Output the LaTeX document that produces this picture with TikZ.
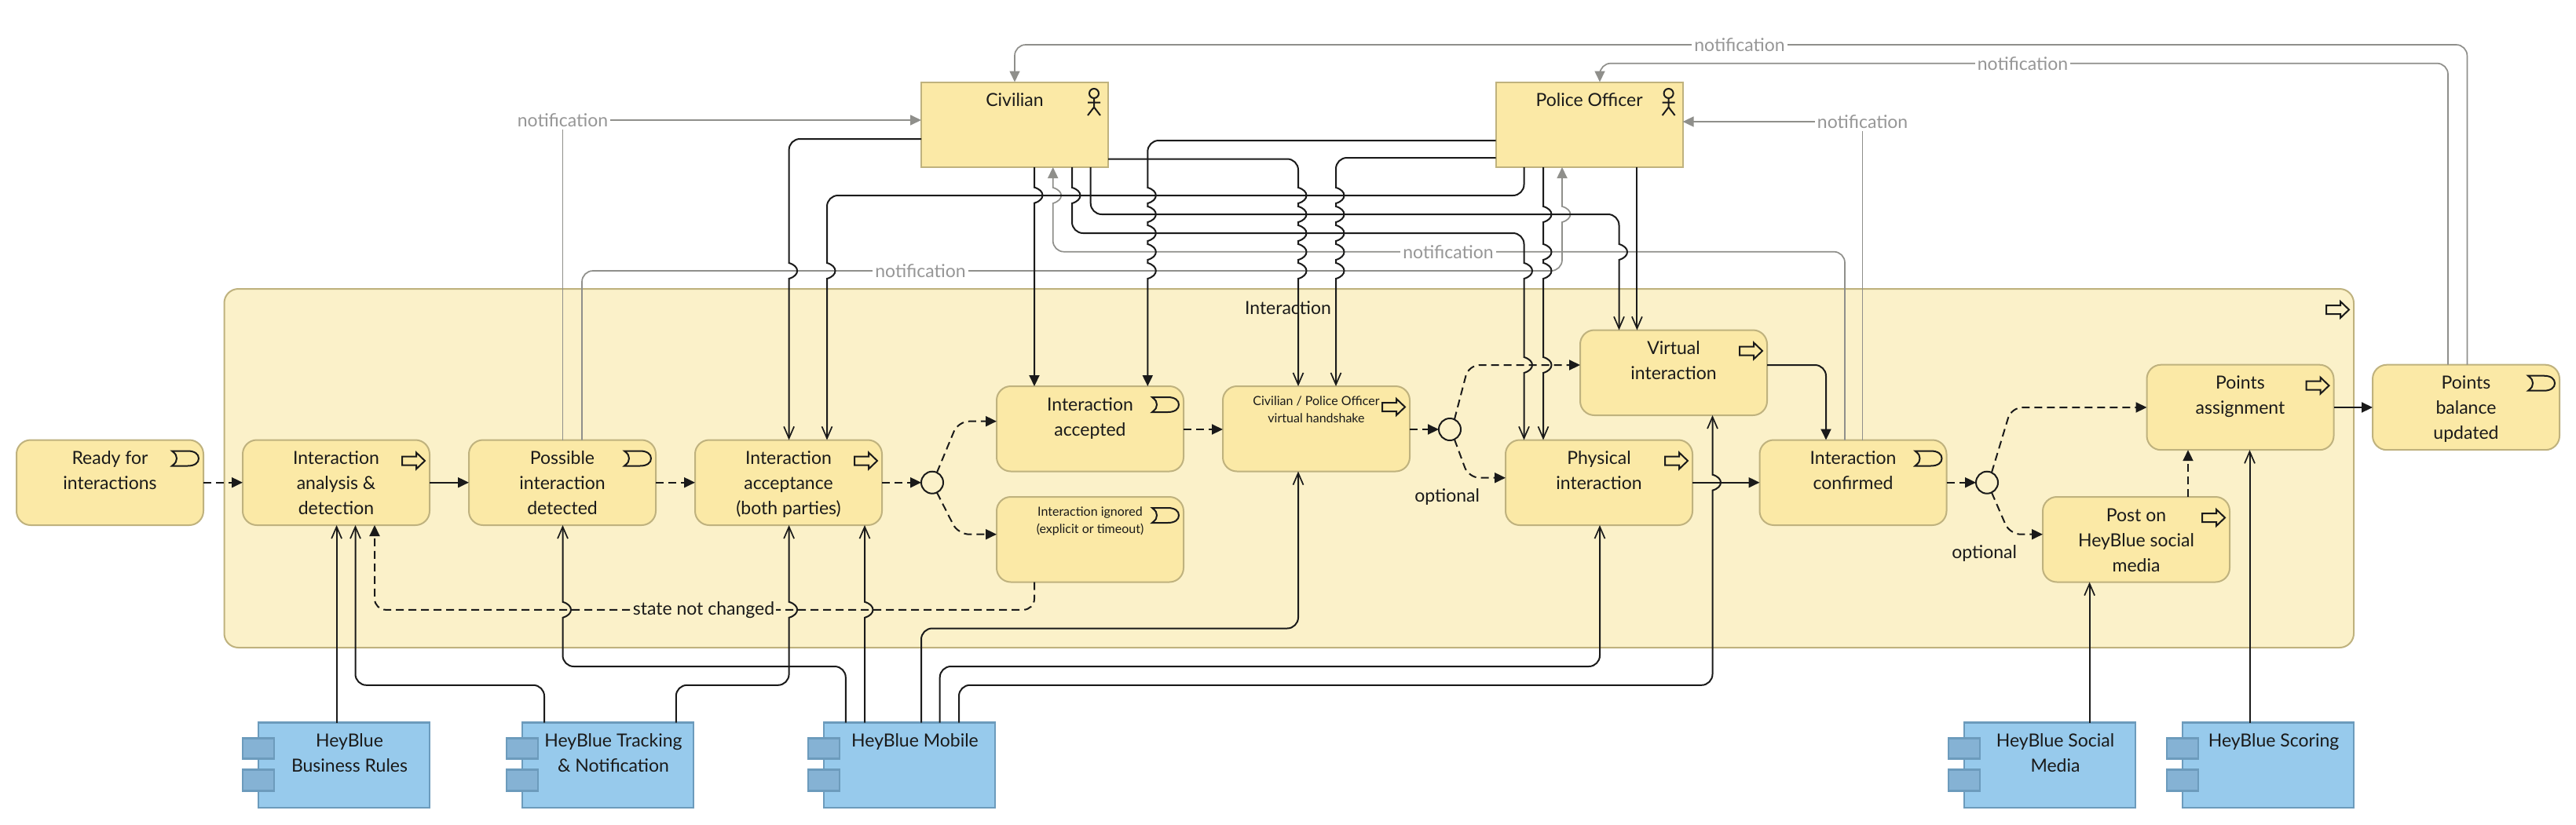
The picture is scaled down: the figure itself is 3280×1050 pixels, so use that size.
\documentclass[tikz,border=0pt]{standalone}
\usepackage{fontspec}
\setmainfont{Lato}
\usetikzlibrary{arrows.meta}
\definecolor{boxfill}{HTML}{FBE9A6}
\definecolor{boxline}{HTML}{BFB27E}
\definecolor{contfill}{HTML}{FBF1C9}
\definecolor{bluefill}{HTML}{97CAEC}
\definecolor{blueline}{HTML}{6C9BBC}
\definecolor{tabfill}{HTML}{85B2D4}
\definecolor{ink}{HTML}{1A1A1A}
\definecolor{greyline}{HTML}{8F8F8B}
\definecolor{greytext}{HTML}{969696}
\newcommand{\tx}[3]{\begin{minipage}[t][#2pt][t]{#1pt}\centering\fontsize{23}{32}\selectfont\rule{0pt}{31pt}\ignorespaces #3\end{minipage}}
\newcommand{\txs}[3]{\begin{minipage}[t][#2pt][t]{#1pt}\centering\fontsize{16}{22}\selectfont\rule{0pt}{24pt}\ignorespaces #3\end{minipage}}
\newcommand{\txc}[3]{\begin{minipage}[t][#2pt][t]{#1pt}\centering\leftskip=14pt plus 1fil\fontsize{23}{32}\selectfont\rule{0pt}{31pt}\ignorespaces #3\end{minipage}}
\newcommand{\Dn}[2]{[sharp corners] -- (#1,#2-10) .. controls (#1+14,#2-6) and (#1+14,#2+6) .. (#1,#2+10) [rounded corners=14pt]}
\newcommand{\Up}[2]{[sharp corners] -- (#1,#2+10) .. controls (#1+14,#2+6) and (#1+14,#2-6) .. (#1,#2-10) [rounded corners=14pt]}
\tikzset{
  evt/.style={draw=boxline,fill=boxfill,line width=2pt,rounded corners=18pt,inner sep=0pt,outer sep=0pt,text=ink},
  actorbox/.style={draw=boxline,fill=boxfill,line width=2pt,inner sep=0pt,outer sep=0pt,text=ink},
  contbox/.style={draw=boxline,fill=contfill,line width=2pt,rounded corners=18pt,inner sep=0pt,outer sep=0pt},
  compbox/.style={draw=blueline,fill=bluefill,line width=2.5pt,inner sep=0pt,outer sep=0pt,text=ink},
  junct/.style={circle,draw=ink,fill=contfill,line width=2pt,minimum size=28pt,inner sep=0pt,outer sep=0pt},
  lab/.style={text=ink,inner sep=0pt,font=\fontsize{23}{28}\selectfont},
  glab/.style={text=greytext,fill=white,inner sep=3pt,font=\fontsize{23}{28}\selectfont},
  conn/.style={draw=ink,line width=2pt,rounded corners=14pt},
  dashconn/.style={conn,dash pattern=on 10pt off 6pt},
  grey/.style={draw=greyline,line width=1.7pt,rounded corners=14pt},
  filltip/.style={-{Triangle[length=14pt,width=13pt]}},
  opentip/.style={-{Straight Barb[length=15pt,width=13pt,line width=1.7pt]}},
  procicon/.pic={\draw[ink,line width=2pt,line join=miter] (-35,21) -- (-17,21) -- (-17,16) -- (-6,26.5) -- (-17,37) -- (-17,32) -- (-35,32) -- cycle;},
  evticon/.pic={\draw[ink,line width=2pt] (-40,14) -- (-20,14) .. controls (-11,14) and (-6,18) .. (-6,23.5) .. controls (-6,29) and (-11,33) .. (-20,33) -- (-40,33) .. controls (-35,29) and (-34,27) .. (-34,23.5) .. controls (-34,20) and (-35,18) .. (-40,14) -- cycle;},
  actoricon/.pic={\draw[ink,line width=2pt] (-18,14.5) circle (6pt) (-18,20.5) -- (-18,32) (-26,26) -- (-10,26) (-26,42.5) -- (-18,32) -- (-10,42.5);},
  tabs/.pic={\draw[blueline,fill=tabfill,line width=2.5pt] (-20,20) rectangle (20,46) (-20,60) rectangle (20,87);},
}
\begin{document}
\begin{tikzpicture}[x=1pt,y=-1pt]
\useasboundingbox (0,0) rectangle (3280,1050);
% container
\node[contbox,anchor=north west,minimum width=2711.5pt,minimum height=457pt] (cont) at (285.5,368) {};
\pic at (cont.north east) {procicon};
\node[lab] (contlab) at (1640,392) {Interaction};
% boxes
\node[evt,anchor=north west] (ready) at (21,560.5) {\tx{238}{108.5}{Ready for\\interactions}};
\node[evt,anchor=north west] (ana) at (309,560.5) {\tx{238}{108.5}{Interaction\\analysis \&\\detection}};
\node[evt,anchor=north west] (pos) at (597,560.5) {\tx{238}{108.5}{Possible\\interaction\\detected}};
\node[evt,anchor=north west] (accp) at (885,560.5) {\tx{238}{108.5}{Interaction\\acceptance\\(both parties)}};
\node[evt,anchor=north west] (accd) at (1269,492) {\tx{238}{108.5}{Interaction\\accepted}};
\node[evt,anchor=north west] (ign) at (1269,633) {\txs{238}{108.5}{Interaction ignored\\(explicit or timeout)}};
\node[evt,anchor=north west] (hs) at (1557,492) {\txs{238}{108.5}{Civilian / Police Officer\\virtual handshake}};
\node[evt,anchor=north west] (vir) at (2012,420.5) {\tx{238}{108.5}{Virtual\\interaction}};
\node[evt,anchor=north west] (phy) at (1917,560.5) {\tx{238}{108.5}{Physical\\interaction}};
\node[evt,anchor=north west] (conf) at (2240.5,560.5) {\tx{238}{108.5}{Interaction\\confirmed}};
\node[evt,anchor=north west] (post) at (2601,633) {\tx{238}{108.5}{Post on\\HeyBlue social\\media}};
\node[evt,anchor=north west] (asg) at (2733.5,464.7) {\tx{238}{108.5}{Points\\assignment}};
\node[evt,anchor=north west] (bal) at (3021,464.7) {\tx{238}{108.5}{Points\\balance\\updated}};
\node[actorbox,anchor=north west] (civ) at (1173,104.5) {\tx{238}{108.5}{Civilian}};
\node[actorbox,anchor=north west] (pol) at (1904.6,104.5) {\tx{238}{108.5}{Police Officer}};
\node[junct] (j1) at (1187,614.7) {};
\node[junct] (j2) at (1846,547) {};
\node[junct] (j3) at (2530,614.7) {};
\foreach \n in {ready,pos,accd,ign,conf,bal} \pic at (\n.north east) {evticon};
\foreach \n in {ana,accp,hs,vir,phy,post,asg} \pic at (\n.north east) {procicon};
\foreach \n in {civ,pol} \pic at (\n.north east) {actoricon};
% components
\node[compbox,anchor=north west] (rules) at (329,920.7) {\txc{218}{108.5}{HeyBlue\\Business Rules}};
\node[compbox,anchor=north west] (track) at (665,920.7) {\txc{218}{108.5}{HeyBlue Tracking\\\& Notification}};
\node[compbox,anchor=north west] (mob) at (1049,920.7) {\txc{218}{108.5}{HeyBlue Mobile}};
\node[compbox,anchor=north west] (soc) at (2501,920.7) {\txc{218}{108.5}{HeyBlue Social\\Media}};
\node[compbox,anchor=north west] (sco) at (2779,920.7) {\txc{218}{108.5}{HeyBlue Scoring}};
\foreach \n in {rules,track,mob,soc,sco} \pic at (\n.north west) {tabs};
% flow connectors
\draw[dashconn,filltip] (ready.east |- 0,614.7) -- (ana.west |- 0,614.7);
\draw[conn,filltip] (ana.east |- 0,614.7) -- (pos.west |- 0,614.7);
\draw[dashconn,filltip] (pos.east |- 0,614.7) -- (accp.west |- 0,614.7);
\draw[dashconn,filltip] (accp.east |- 0,614.7) -- (j1.west);
\draw[dashconn,filltip] (j1.65) -- (1220,536.7) -- (accd.west |- 0,536.7);
\draw[dashconn,filltip] (j1.-65) -- (1220,680.7) -- (ign.west |- 0,680.7);
\draw[dashconn,filltip] (accd.east |- 0,547) -- (hs.west |- 0,547);
\draw[dashconn,filltip] (hs.east |- 0,547) -- (j2.west);
\draw[dashconn,filltip] (j2.65) -- (1870,465) -- (vir.west |- 0,465);
\draw[dashconn,filltip] (j2.-65) -- (1870,608.7) -- (phy.west |- 0,608.7);
\draw[conn,filltip] (phy.east |- 0,614.7) -- (conf.west |- 0,614.7);
\draw[dashconn,filltip] (conf.east |- 0,614.7) -- (j3.west);
\draw[dashconn,filltip] (j3.65) -- (2561,519) -- (asg.west |- 0,519);
\draw[dashconn,filltip] (j3.-65) -- (2559,680.7) -- (post.west |- 0,680.7);
\draw[dashconn,filltip] (2786,0 |- post.north) -- (2786,0 |- asg.south);
\draw[conn,filltip] (asg.east |- 0,519) -- (bal.west |- 0,519);
\draw[dashconn,filltip] (1317,0 |- ign.south) -- (1317,776.8) -- (477,776.8) -- (477,0 |- ana.south);
\node[text=ink,fill=contfill,inner sep=2pt,font=\fontsize{23}{28}\selectfont] (snc) at (896,776.8) {state not changed};
% notification connectors
\node[glab] (n1) at (716.5,153) {notification};
\node[glab] (n4) at (2371.6,155) {notification};
\draw[grey] (n1.south) -- (716.5,0 |- pos.north);
\draw[grey,filltip] (n1.east) -- (civ.west |- n1.east);
\draw[grey] (n4.south) -- (2371.6,0 |- conf.north);
\draw[grey,filltip] (n4.west) -- (pol.east |- n4.west);
\draw[grey,filltip] (741,0 |- pos.north) -- (741,345) -- (1989,345) \Up{1989}{273} -- (1989,0 |- pol.south);
\node[glab] (n2) at (1172,345) {notification};
\draw[grey,filltip] (2349,0 |- conf.north) -- (2349,320.7) -- (1340.7,320.7) \Up{1340.7}{249} -- (1340.7,0 |- civ.south);
\node[glab] (n3) at (1844,320.7) {notification};
\draw[grey,filltip] (3141.4,0 |- bal.north) -- (3141.4,57) -- (1292,57) -- (1292,0 |- civ.north);
\node[glab] (n5) at (2215,57) {notification};
\draw[grey,filltip] (3117,0 |- bal.north) -- (3117,80.7) -- (2037,80.7) -- (2037,0 |- pol.north);
\node[glab] (n6) at (2575.5,80.7) {notification};
% actor connectors
\draw[conn,opentip] (civ.west |- 0,177) -- (1004.6,177) \Dn{1004.6}{345} -- (1004.6,0 |- accp.north);
\draw[conn,opentip] (1940.5,0 |- pol.south) -- (1940.5,249) -- (1053,249) \Dn{1053}{345} -- (1053,0 |- accp.north);
\draw[conn,filltip] (1317,0 |- civ.south) \Dn{1317}{248.7} -- (1317,0 |- accd.north);
\draw[conn,filltip] (pol.west |- 0,179) -- (1461.3,179) \Dn{1461.3}{249} \Dn{1461.3}{273} \Dn{1461.3}{297} \Dn{1461.3}{321} \Dn{1461.3}{345} -- (1461.3,0 |- accd.north);
\draw[conn,opentip] (civ.east |- 0,202.5) -- (1653,202.5) \Dn{1653}{249} \Dn{1653}{273} \Dn{1653}{297} \Dn{1653}{321} \Dn{1653}{345} -- (1653,0 |- hs.north);
\draw[conn,opentip] (pol.west |- 0,201) -- (1701,201) \Dn{1701}{249} \Dn{1701}{273} \Dn{1701}{297} \Dn{1701}{321} \Dn{1701}{345} -- (1701,0 |- hs.north);
\draw[conn,opentip] (1365,0 |- civ.south) \Dn{1365}{249} -- (1365,297) -- (1940.5,297) \Dn{1940.5}{345} \Dn{1940.5}{465} -- (1940.5,0 |- phy.north);
\draw[conn,opentip] (1388.7,0 |- civ.south) -- (1388.7,273) -- (2061.5,273) \Dn{2061.5}{321} -- (2061.5,0 |- vir.north);
\draw[conn,opentip] (1965,0 |- pol.south) \Dn{1965}{273} \Dn{1965}{321} \Dn{1965}{345} \Dn{1965}{465} -- (1965,0 |- phy.north);
\draw[conn,opentip] (2084.4,0 |- pol.south) -- (2084.4,0 |- vir.north);
\draw[conn,filltip] (vir.east |- 0,465) -- (2325,465) -- (2325,0 |- conf.north);
% application connectors
\draw[conn,opentip] (428.6,0 |- rules.north) -- (428.6,0 |- ana.south);
\draw[conn,opentip] (693,0 |- track.north) -- (693,872.8) -- (452.5,872.8) -- (452.5,0 |- ana.south);
\draw[conn,opentip] (860.8,0 |- track.north) -- (860.8,872.8) -- (1004.6,872.8) \Up{1004.6}{776.8} -- (1004.6,0 |- accp.south);
\draw[conn,opentip] (1076.8,0 |- mob.north) -- (1076.8,849) -- (716.5,849) \Up{716.5}{776.8} -- (716.5,0 |- pos.south);
\draw[conn,opentip] (1101,0 |- mob.north) \Up{1101}{776.8} -- (1101,0 |- accp.south);
\draw[conn,opentip] (1173,0 |- mob.north) -- (1173,800.5) -- (1653,800.5) -- (1653,0 |- hs.south);
\draw[conn,opentip] (1196.7,0 |- mob.north) -- (1196.7,849) -- (2037,849) -- (2037,0 |- phy.south);
\draw[conn,opentip] (1221,0 |- mob.north) -- (1221,872.8) -- (2180.5,872.8) \Up{2180.5}{614.7} -- (2180.5,0 |- vir.south);
\draw[conn,opentip] (2660.6,0 |- soc.north) -- (2660.6,0 |- post.south);
\draw[conn,opentip] (2864.5,0 |- sco.north) -- (2864.5,0 |- asg.south);
% free labels
\node[lab] (opt1) at (1842.6,633) {optional};
\node[lab] (opt2) at (2526.6,704.8) {optional};
\end{tikzpicture}
\end{document}
